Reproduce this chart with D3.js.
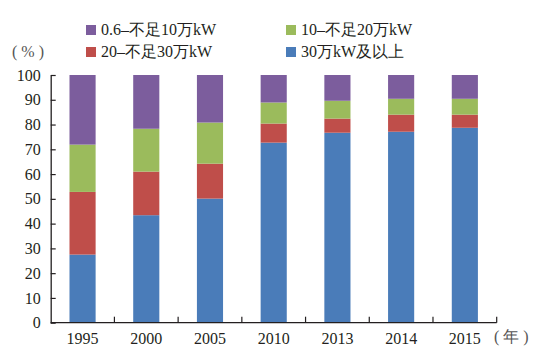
<!DOCTYPE html>
<html><head><meta charset="utf-8">
<script src="https://cdn.jsdelivr.net/npm/d3@7"></script>
<style>
body{margin:0;background:#fff;}
</style></head>
<body><svg id="c" width="539" height="355"></svg>
<script>
const years = ["1995","2000","2005","2010","2013","2014","2015"];
const s30plus = [27.5, 43.4, 50.1, 72.7, 76.7, 77.1, 78.7];
const s20to30 = [25.3, 17.6, 14.1, 7.7, 5.7, 6.9, 5.3];
const s10to20 = [19.1, 17.3, 16.6, 8.5, 7.2, 6.4, 6.4];
const s06to10 = [28.1, 21.7, 19.2, 11.1, 10.4, 9.6, 9.6];
const seriesNames = ["30万kW及以上","20–不足30万kW","10–不足20万kW","0.6–不足10万kW"];
const seriesColors = ["#4a7cb9","#bf4e4a","#9bbb5c","#7c5d9d"];
const yTicks = [0,10,20,30,40,50,60,70,80,90,100];

const FONT = "Liberation Serif";
const svg = d3.select("#c");
const x0 = 50.7, x1 = 496.7, yTop = 75, yBot = 322.7;
const x = d3.scaleBand().domain(years).range([x0, x1]).paddingInner(0.59).paddingOuter(0.295);
const y = d3.scaleLinear().domain([0,100]).range([yBot, yTop]);

const rows = years.map((yr,i)=>({year:yr, s0:s30plus[i], s1:s20to30[i], s2:s10to20[i], s3:s06to10[i]}));
const stack = d3.stack().keys(["s0","s1","s2","s3"])(rows);

svg.append("g").selectAll("g").data(stack).join("g")
  .attr("fill",(d,i)=>seriesColors[i])
  .selectAll("rect").data(d=>d).join("rect")
  .attr("x",d=>x(d.data.year)).attr("width",x.bandwidth())
  .attr("y",d=>y(Math.min(d[1],100))).attr("height",d=>y(d[0])-y(Math.min(d[1],100)));

// y axis
const ya = svg.append("g").attr("transform",`translate(${x0},0)`)
  .call(d3.axisLeft(y).tickValues(yTicks).tickSizeInner(-5).tickSizeOuter(0).tickPadding(10));
ya.attr("font-family",FONT).attr("font-size",16);
ya.select(".domain").attr("stroke","#231f20").attr("stroke-width",1.3);
ya.selectAll(".tick line").attr("stroke","#231f20").attr("stroke-width",1.2);
ya.selectAll("text").attr("fill","#231f20").attr("font-family",FONT);

// x axis
const xa = svg.append("g").attr("transform",`translate(0,${yBot})`)
  .call(d3.axisBottom(x).tickSize(0).tickPadding(10));
xa.attr("font-family",FONT).attr("font-size",16);
xa.select(".domain").attr("stroke","#231f20").attr("stroke-width",1.3).attr("d",`M${x0},0H${x1}`);
xa.selectAll("text").attr("dy","0.71em").attr("fill","#231f20").attr("font-family",FONT);
const bounds = years.slice(1).map(v=>x(v) - x.step()*x.paddingInner()/2).concat([x1]);
xa.selectAll("line.bd").data(bounds).join("line").attr("class","bd")
  .attr("x1",d=>d).attr("x2",d=>d).attr("y1",0).attr("y2",-6)
  .attr("stroke","#231f20").attr("stroke-width",1.2);

svg.append("text").attr("x",494).attr("y",342).attr("font-size",16).attr("font-family",FONT).attr("fill","#555").text("( 年 )");
svg.append("text").attr("x",12).attr("y",57).attr("font-size",16).attr("font-family",FONT).attr("fill","#555").text("( % )");

// legend
const legend = [
  {i:3, lx:86, ly:25},
  {i:2, lx:286, ly:25},
  {i:1, lx:86, ly:47},
  {i:0, lx:286, ly:47}
];
const lg = svg.append("g").selectAll("g").data(legend).join("g");
lg.append("rect").attr("x",d=>d.lx).attr("y",d=>d.ly).attr("width",10).attr("height",10)
  .attr("fill",d=>seriesColors[d.i]);
lg.append("text").attr("x",d=>d.lx+15).attr("y",d=>d.ly+10).attr("font-size",16)
  .attr("font-family",FONT).attr("fill","#231f20")
  .text(d=>seriesNames[d.i]);
</script></body></html>
